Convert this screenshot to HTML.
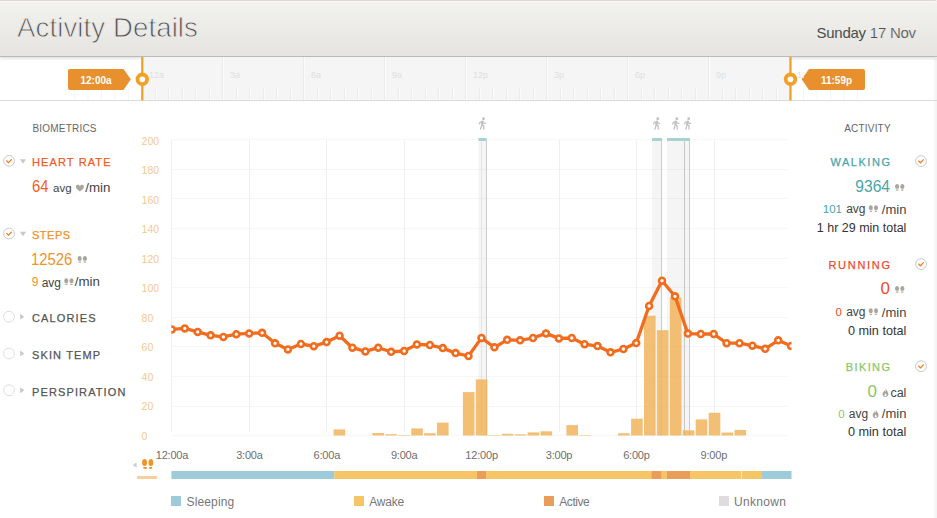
<!DOCTYPE html>
<html><head><meta charset="utf-8"><title>Activity Details</title>
<style>
html,body{margin:0;padding:0}
body{width:937px;height:518px;background:#fff;position:relative;overflow:hidden;font-family:"Liberation Sans",sans-serif}
.t{position:absolute;line-height:1;white-space:nowrap}
.hd{-webkit-text-stroke:0.25px currentColor}
.ic{position:absolute;overflow:visible}
#hdr{position:absolute;left:0;top:0;width:936.5px;height:55px;border-top:1px solid #dcdacf;background:linear-gradient(#f2f2ef,#e5e4e0);box-shadow:inset 0 1px 0 #f8f8f6,0 1px 0 #bababa,0 3px 3px rgba(0,0,0,0.11);border-radius:0 2px 0 0}
#rs{position:absolute;left:934px;top:58px;width:3px;height:460px;background:linear-gradient(to right,#fafafa,#f3f3f3)}
#tl{position:absolute;left:0;top:57px;width:937px;height:43px;border-bottom:1px solid #dcdcdc}
#tlbg{position:absolute;left:142px;top:57px;width:649px;height:43px;background:#f5f5f5}
.tlb{position:absolute;top:69px;font-size:9px;line-height:12px;color:#e0e0e0}
.yl{position:absolute;left:142px;font-size:11px;line-height:12px;color:#f5c98f}
.xl{position:absolute;top:449px;width:60px;text-align:center;font-size:11px;line-height:12px;color:#6e6e6e;letter-spacing:-0.2px}
.tag{position:absolute;top:69px;height:21px;background:#e8902e;color:#fff;font-size:11px;font-weight:bold;line-height:21px;text-align:center;box-shadow:0 1px 2px rgba(0,0,0,0.25)}
svg{position:absolute;left:0;top:0}
</style></head><body>
<div id="rs"></div><div id="hdr"></div>
<svg width="937" height="60" style="z-index:2"><text x="17" y="36.8" font-family="Liberation Sans, sans-serif" font-size="27.6" fill="#4e4e4e" stroke="#ecebe8" stroke-width="0.85" letter-spacing="0.1">Activity Details</text>
<text x="816.5" y="38" font-family="Liberation Sans, sans-serif" font-size="15" fill="#4c4c4c" letter-spacing="-0.25">Sunday <tspan fill="#505050" stroke="#e9e8e5" stroke-width="0.2">17 Nov</tspan></text></svg>
<div id="tl"></div><div id="tlbg"></div>
<svg width="937" height="110"><rect x="141" y="57" width="1" height="43" fill="#ebebeb"/><rect x="142" y="57" width="1" height="43" fill="#fcfcfc"/>
<rect x="155" y="88" width="1" height="12" fill="#ececec"/><rect x="156" y="88" width="1" height="12" fill="#fbfbfb"/>
<rect x="168" y="88" width="1" height="12" fill="#ececec"/><rect x="169" y="88" width="1" height="12" fill="#fbfbfb"/>
<rect x="182" y="88" width="1" height="12" fill="#ececec"/><rect x="183" y="88" width="1" height="12" fill="#fbfbfb"/>
<rect x="195" y="88" width="1" height="12" fill="#ececec"/><rect x="196" y="88" width="1" height="12" fill="#fbfbfb"/>
<rect x="209" y="88" width="1" height="12" fill="#ececec"/><rect x="210" y="88" width="1" height="12" fill="#fbfbfb"/>
<rect x="222" y="57" width="1" height="43" fill="#ebebeb"/><rect x="223" y="57" width="1" height="43" fill="#fcfcfc"/>
<rect x="236" y="88" width="1" height="12" fill="#ececec"/><rect x="237" y="88" width="1" height="12" fill="#fbfbfb"/>
<rect x="249" y="88" width="1" height="12" fill="#ececec"/><rect x="250" y="88" width="1" height="12" fill="#fbfbfb"/>
<rect x="263" y="88" width="1" height="12" fill="#ececec"/><rect x="264" y="88" width="1" height="12" fill="#fbfbfb"/>
<rect x="276" y="88" width="1" height="12" fill="#ececec"/><rect x="277" y="88" width="1" height="12" fill="#fbfbfb"/>
<rect x="290" y="88" width="1" height="12" fill="#ececec"/><rect x="291" y="88" width="1" height="12" fill="#fbfbfb"/>
<rect x="303" y="57" width="1" height="43" fill="#ebebeb"/><rect x="304" y="57" width="1" height="43" fill="#fcfcfc"/>
<rect x="317" y="88" width="1" height="12" fill="#ececec"/><rect x="318" y="88" width="1" height="12" fill="#fbfbfb"/>
<rect x="330" y="88" width="1" height="12" fill="#ececec"/><rect x="331" y="88" width="1" height="12" fill="#fbfbfb"/>
<rect x="344" y="88" width="1" height="12" fill="#ececec"/><rect x="345" y="88" width="1" height="12" fill="#fbfbfb"/>
<rect x="357" y="88" width="1" height="12" fill="#ececec"/><rect x="358" y="88" width="1" height="12" fill="#fbfbfb"/>
<rect x="371" y="88" width="1" height="12" fill="#ececec"/><rect x="372" y="88" width="1" height="12" fill="#fbfbfb"/>
<rect x="384" y="57" width="1" height="43" fill="#ebebeb"/><rect x="385" y="57" width="1" height="43" fill="#fcfcfc"/>
<rect x="398" y="88" width="1" height="12" fill="#ececec"/><rect x="399" y="88" width="1" height="12" fill="#fbfbfb"/>
<rect x="411" y="88" width="1" height="12" fill="#ececec"/><rect x="412" y="88" width="1" height="12" fill="#fbfbfb"/>
<rect x="425" y="88" width="1" height="12" fill="#ececec"/><rect x="426" y="88" width="1" height="12" fill="#fbfbfb"/>
<rect x="438" y="88" width="1" height="12" fill="#ececec"/><rect x="439" y="88" width="1" height="12" fill="#fbfbfb"/>
<rect x="452" y="88" width="1" height="12" fill="#ececec"/><rect x="453" y="88" width="1" height="12" fill="#fbfbfb"/>
<rect x="465" y="57" width="1" height="43" fill="#ebebeb"/><rect x="466" y="57" width="1" height="43" fill="#fcfcfc"/>
<rect x="479" y="88" width="1" height="12" fill="#ececec"/><rect x="480" y="88" width="1" height="12" fill="#fbfbfb"/>
<rect x="492" y="88" width="1" height="12" fill="#ececec"/><rect x="493" y="88" width="1" height="12" fill="#fbfbfb"/>
<rect x="506" y="88" width="1" height="12" fill="#ececec"/><rect x="507" y="88" width="1" height="12" fill="#fbfbfb"/>
<rect x="519" y="88" width="1" height="12" fill="#ececec"/><rect x="520" y="88" width="1" height="12" fill="#fbfbfb"/>
<rect x="533" y="88" width="1" height="12" fill="#ececec"/><rect x="534" y="88" width="1" height="12" fill="#fbfbfb"/>
<rect x="546" y="57" width="1" height="43" fill="#ebebeb"/><rect x="547" y="57" width="1" height="43" fill="#fcfcfc"/>
<rect x="560" y="88" width="1" height="12" fill="#ececec"/><rect x="561" y="88" width="1" height="12" fill="#fbfbfb"/>
<rect x="573" y="88" width="1" height="12" fill="#ececec"/><rect x="574" y="88" width="1" height="12" fill="#fbfbfb"/>
<rect x="587" y="88" width="1" height="12" fill="#ececec"/><rect x="588" y="88" width="1" height="12" fill="#fbfbfb"/>
<rect x="600" y="88" width="1" height="12" fill="#ececec"/><rect x="601" y="88" width="1" height="12" fill="#fbfbfb"/>
<rect x="614" y="88" width="1" height="12" fill="#ececec"/><rect x="615" y="88" width="1" height="12" fill="#fbfbfb"/>
<rect x="627" y="57" width="1" height="43" fill="#ebebeb"/><rect x="628" y="57" width="1" height="43" fill="#fcfcfc"/>
<rect x="641" y="88" width="1" height="12" fill="#ececec"/><rect x="642" y="88" width="1" height="12" fill="#fbfbfb"/>
<rect x="654" y="88" width="1" height="12" fill="#ececec"/><rect x="655" y="88" width="1" height="12" fill="#fbfbfb"/>
<rect x="668" y="88" width="1" height="12" fill="#ececec"/><rect x="669" y="88" width="1" height="12" fill="#fbfbfb"/>
<rect x="681" y="88" width="1" height="12" fill="#ececec"/><rect x="682" y="88" width="1" height="12" fill="#fbfbfb"/>
<rect x="695" y="88" width="1" height="12" fill="#ececec"/><rect x="696" y="88" width="1" height="12" fill="#fbfbfb"/>
<rect x="708" y="57" width="1" height="43" fill="#ebebeb"/><rect x="709" y="57" width="1" height="43" fill="#fcfcfc"/>
<rect x="722" y="88" width="1" height="12" fill="#ececec"/><rect x="723" y="88" width="1" height="12" fill="#fbfbfb"/>
<rect x="735" y="88" width="1" height="12" fill="#ececec"/><rect x="736" y="88" width="1" height="12" fill="#fbfbfb"/>
<rect x="749" y="88" width="1" height="12" fill="#ececec"/><rect x="750" y="88" width="1" height="12" fill="#fbfbfb"/>
<rect x="762" y="88" width="1" height="12" fill="#ececec"/><rect x="763" y="88" width="1" height="12" fill="#fbfbfb"/>
<rect x="776" y="88" width="1" height="12" fill="#ececec"/><rect x="777" y="88" width="1" height="12" fill="#fbfbfb"/>
<rect x="789" y="57" width="1" height="43" fill="#ebebeb"/><rect x="790" y="57" width="1" height="43" fill="#fcfcfc"/>
<rect x="74.0" y="89" width="1" height="11" fill="#f5f5f5"/>
<rect x="87.5" y="89" width="1" height="11" fill="#f5f5f5"/>
<rect x="101.0" y="89" width="1" height="11" fill="#f5f5f5"/>
<rect x="114.5" y="89" width="1" height="11" fill="#f5f5f5"/>
<rect x="128.0" y="89" width="1" height="11" fill="#f5f5f5"/>
<rect x="803.0" y="89" width="1" height="11" fill="#f5f5f5"/>
<rect x="816.5" y="89" width="1" height="11" fill="#f5f5f5"/>
<rect x="830.0" y="89" width="1" height="11" fill="#f5f5f5"/>
<rect x="843.5" y="89" width="1" height="11" fill="#f5f5f5"/>
<rect x="857.0" y="89" width="1" height="11" fill="#f5f5f5"/>
<rect x="141.2" y="57" width="2.2" height="43.5" fill="#f3a026"/>
<rect x="789.4" y="57" width="2.2" height="43.5" fill="#f3a026"/>
<circle cx="142.3" cy="79.3" r="4.8" fill="#fff" stroke="#f3a026" stroke-width="3.8"/>
<circle cx="790.5" cy="79.3" r="4.8" fill="#fff" stroke="#f3a026" stroke-width="3.8"/>
<path d="M70 69H123.5L130.8 79.3L123.5 90H70Q68 90 68 88V71Q68 69 70 69Z" fill="#e8902e"/>
<path d="M863 69H809L801.7 79.3L809 90H863Q865 90 865 88V71Q865 69 863 69Z" fill="#e8902e"/>
</svg>
<div class="tlb" style="left:149px">12a</div>
<div class="tlb" style="left:230px">3a</div>
<div class="tlb" style="left:311px">6a</div>
<div class="tlb" style="left:392px">9a</div>
<div class="tlb" style="left:473px">12p</div>
<div class="tlb" style="left:554px">3p</div>
<div class="tlb" style="left:635px">6p</div>
<div class="tlb" style="left:716px">9p</div>
<div class="tlb" style="left:797px;width:7px;overflow:hidden">12a</div>

<div class="t" style="left:68px;top:76px;width:56px;text-align:center;font-size:10px;font-weight:bold;color:#fff">12:00a</div>
<div class="t" style="left:808px;top:76px;width:57px;text-align:center;font-size:10px;font-weight:bold;color:#fff">11:59p</div>
<div class="t " style="left:32.5px;top:124.23px;font-size:10px;color:#666;letter-spacing:0.2px">BIOMETRICS</div>
<div class="t hd" style="left:32px;top:156.99px;font-size:11px;color:#f15a22;letter-spacing:1.12px">HEART RATE</div>
<div class="t " style="left:31.6px;top:179.46px;font-size:16px;color:#f2601e;transform:scaleX(0.925);transform-origin:left center;">64</div>
<div class="t " style="left:53px;top:182.87px;font-size:11.5px;color:#444;">avg</div>
<div class="t " style="left:85.3px;top:180.94px;font-size:13.3px;color:#444;">/min</div>
<div class="t hd" style="left:32px;top:229.79px;font-size:11px;color:#f0922b;letter-spacing:0.5px">STEPS</div>
<div class="t " style="left:31.0px;top:251.76px;font-size:16px;color:#f0922b;transform:scaleX(0.925);transform-origin:left center;">12526</div>
<div class="t " style="left:31.7px;top:276.24px;font-size:12px;color:#f0922b;">9</div>
<div class="t " style="left:41.7px;top:276.84px;font-size:12px;color:#444;">avg</div>
<div class="t " style="left:74.7px;top:275.44px;font-size:13.3px;color:#444;">/min</div>
<div class="t hd" style="left:32px;top:313.29px;font-size:11px;color:#555;letter-spacing:1.12px">CALORIES</div>
<div class="t hd" style="left:32px;top:350.19px;font-size:11px;color:#555;letter-spacing:1.12px">SKIN TEMP</div>
<div class="t hd" style="left:32px;top:386.99px;font-size:11px;color:#555;letter-spacing:1.12px">PERSPIRATION</div>

<div class="t " style="left:844.2px;top:124.23px;font-size:10px;color:#666;letter-spacing:0.2px">ACTIVITY</div>
<div class="t hd" style="right:47px;top:156.99px;font-size:11px;color:#4aa5a8;letter-spacing:1.53px;margin-right:-1.5px">WALKING</div>
<div class="t " style="right:47px;top:178.29px;font-size:16.2px;color:#4aa5a8;transform:scaleX(0.965);transform-origin:right center;">9364</div>
<div class="t " style="right:95px;top:203.87px;font-size:11.5px;color:#4aa5a8;">101</div>
<div class="t " style="left:846.2px;top:203.44px;font-size:12px;color:#444;">avg</div>
<div class="t " style="right:30.600000000000023px;top:202.60px;font-size:13px;color:#444;">/min</div>
<div class="t " style="right:30.600000000000023px;top:221.92px;font-size:12.5px;color:#333;">1 hr 29 min total</div>
<div class="t hd" style="right:47px;top:259.69px;font-size:11px;color:#ee4b2b;letter-spacing:1.7px;margin-right:-1.7px">RUNNING</div>
<div class="t " style="right:47px;top:280.76px;font-size:16px;color:#ee4b2b;transform:scaleX(1.06);transform-origin:right center;">0</div>
<div class="t " style="right:95px;top:306.77px;font-size:11.5px;color:#ee4b2b;">0</div>
<div class="t " style="left:846.2px;top:306.34px;font-size:12px;color:#444;">avg</div>
<div class="t " style="right:30.600000000000023px;top:305.50px;font-size:13px;color:#444;">/min</div>
<div class="t " style="right:30.600000000000023px;top:324.55px;font-size:12.7px;color:#333;">0 min total</div>
<div class="t hd" style="right:47px;top:362.19px;font-size:11px;color:#8cc665;letter-spacing:1.4px;margin-right:-1.4px">BIKING</div>
<div class="t " style="right:59.799999999999955px;top:383.76px;font-size:16px;color:#8cc665;transform:scaleX(1.06);transform-origin:right center;">0</div>
<div class="t " style="right:30.600000000000023px;top:386.72px;font-size:12.5px;color:#444;">cal</div>
<div class="t " style="right:92.39999999999998px;top:408.67px;font-size:11.5px;color:#8cc665;">0</div>
<div class="t " style="left:848.8px;top:408.24px;font-size:12px;color:#444;">avg</div>
<div class="t " style="right:30.600000000000023px;top:407.40px;font-size:13px;color:#444;">/min</div>
<div class="t " style="right:30.600000000000023px;top:426.45px;font-size:12.7px;color:#333;">0 min total</div>

<svg width="937" height="518"><defs><clipPath id="cp"><rect x="171.3" y="130" width="620.2" height="320"/></clipPath></defs>
<line x1="172" x2="788" y1="435.5" y2="435.5" stroke="#f6f6f6" stroke-width="1"/>
<line x1="172" x2="788" y1="406.5" y2="406.5" stroke="#f6f6f6" stroke-width="1"/>
<line x1="172" x2="788" y1="376.5" y2="376.5" stroke="#f6f6f6" stroke-width="1"/>
<line x1="172" x2="788" y1="346.5" y2="346.5" stroke="#f6f6f6" stroke-width="1"/>
<line x1="172" x2="788" y1="317.5" y2="317.5" stroke="#f6f6f6" stroke-width="1"/>
<line x1="172" x2="788" y1="287.5" y2="287.5" stroke="#f6f6f6" stroke-width="1"/>
<line x1="172" x2="788" y1="258.5" y2="258.5" stroke="#f6f6f6" stroke-width="1"/>
<line x1="172" x2="788" y1="228.5" y2="228.5" stroke="#f6f6f6" stroke-width="1"/>
<line x1="172" x2="788" y1="198.5" y2="198.5" stroke="#f6f6f6" stroke-width="1"/>
<line x1="172" x2="788" y1="169.5" y2="169.5" stroke="#f6f6f6" stroke-width="1"/>
<line x1="172" x2="788" y1="139.5" y2="139.5" stroke="#f6f6f6" stroke-width="1"/>
<line x1="171.5" x2="171.5" y1="140" y2="432" stroke="#efefef" stroke-width="1"/>
<line x1="249.5" x2="249.5" y1="140" y2="432" stroke="#efefef" stroke-width="1"/>
<line x1="326.5" x2="326.5" y1="140" y2="432" stroke="#efefef" stroke-width="1"/>
<line x1="404.5" x2="404.5" y1="140" y2="432" stroke="#efefef" stroke-width="1"/>
<line x1="481.5" x2="481.5" y1="140" y2="432" stroke="#efefef" stroke-width="1"/>
<line x1="559.5" x2="559.5" y1="140" y2="432" stroke="#efefef" stroke-width="1"/>
<line x1="636.5" x2="636.5" y1="140" y2="432" stroke="#efefef" stroke-width="1"/>
<line x1="714.5" x2="714.5" y1="140" y2="432" stroke="#efefef" stroke-width="1"/>
<rect x="478.5" y="141" width="8.0" height="294.5" fill="#000" fill-opacity="0.04"/>
<rect x="486" y="141" width="1" height="294.5" fill="#cbcbcb"/>
<rect x="652" y="141" width="9.5" height="294.5" fill="#000" fill-opacity="0.04"/>
<rect x="661" y="141" width="1" height="294.5" fill="#cbcbcb"/>
<rect x="667" y="141" width="17.5" height="294.5" fill="#000" fill-opacity="0.04"/>
<rect x="684" y="141" width="1" height="294.5" fill="#cbcbcb"/>
<rect x="684.5" y="141" width="5.5" height="294.5" fill="#000" fill-opacity="0.04"/>
<rect x="689" y="141" width="1" height="294.5" fill="#cbcbcb"/>
<rect x="478.5" y="138" width="8.199999999999989" height="3" fill="#a5d3d0"/>
<rect x="652" y="138" width="10" height="3" fill="#a5d3d0"/>
<rect x="667" y="138" width="23" height="3" fill="#a5d3d0"/>
<rect x="333.6" y="429.4" width="11.6" height="6.1" fill="#f0b35a" fill-opacity="0.84"/>
<rect x="372.4" y="433.0" width="11.6" height="2.5" fill="#f0b35a" fill-opacity="0.84"/>
<rect x="385.3" y="434.2" width="11.6" height="1.3" fill="#f0b35a" fill-opacity="0.84"/>
<rect x="398.2" y="435.0" width="11.6" height="0.5" fill="#f0b35a" fill-opacity="0.84"/>
<rect x="411.2" y="428.4" width="11.6" height="7.1" fill="#f0b35a" fill-opacity="0.84"/>
<rect x="424.1" y="433.2" width="11.6" height="2.3" fill="#f0b35a" fill-opacity="0.84"/>
<rect x="437.0" y="422.6" width="11.6" height="12.9" fill="#f0b35a" fill-opacity="0.84"/>
<rect x="462.9" y="392.1" width="11.6" height="43.4" fill="#f0b35a" fill-opacity="0.84"/>
<rect x="475.8" y="379.4" width="11.6" height="56.1" fill="#f0b35a" fill-opacity="0.84"/>
<rect x="488.8" y="435.0" width="11.6" height="0.5" fill="#f0b35a" fill-opacity="0.84"/>
<rect x="501.7" y="433.8" width="11.6" height="1.7" fill="#f0b35a" fill-opacity="0.84"/>
<rect x="514.6" y="434.3" width="11.6" height="1.2" fill="#f0b35a" fill-opacity="0.84"/>
<rect x="527.6" y="432.4" width="11.6" height="3.1" fill="#f0b35a" fill-opacity="0.84"/>
<rect x="540.5" y="431.3" width="11.6" height="4.2" fill="#f0b35a" fill-opacity="0.84"/>
<rect x="566.4" y="425.1" width="11.6" height="10.4" fill="#f0b35a" fill-opacity="0.84"/>
<rect x="579.3" y="435.0" width="11.6" height="0.5" fill="#f0b35a" fill-opacity="0.84"/>
<rect x="618.1" y="433.2" width="11.6" height="2.3" fill="#f0b35a" fill-opacity="0.84"/>
<rect x="631.1" y="418.7" width="11.6" height="16.8" fill="#f0b35a" fill-opacity="0.84"/>
<rect x="644.0" y="315.7" width="11.6" height="119.8" fill="#f0b35a" fill-opacity="0.84"/>
<rect x="656.9" y="330.2" width="11.6" height="105.3" fill="#f0b35a" fill-opacity="0.84"/>
<rect x="669.9" y="297.7" width="11.6" height="137.8" fill="#f0b35a" fill-opacity="0.84"/>
<rect x="682.8" y="430.3" width="11.6" height="5.2" fill="#f0b35a" fill-opacity="0.84"/>
<rect x="695.7" y="419.4" width="11.6" height="16.1" fill="#f0b35a" fill-opacity="0.84"/>
<rect x="708.7" y="412.8" width="11.6" height="22.7" fill="#f0b35a" fill-opacity="0.84"/>
<rect x="721.6" y="432.5" width="11.6" height="3.0" fill="#f0b35a" fill-opacity="0.84"/>
<rect x="734.5" y="430.0" width="11.6" height="5.5" fill="#f0b35a" fill-opacity="0.84"/>
<g clip-path="url(#cp)"><polyline points="171.8,329.4 184.8,328.4 197.7,331.9 210.6,335.3 223.4,336.9 236.3,334.2 249.2,333.4 262.1,332.8 275.1,343.3 287.9,349.4 300.9,344.0 313.8,346.2 326.6,342.1 339.6,335.7 352.4,347.7 365.4,351.4 378.2,347.7 391.1,351.8 404.1,351.0 416.9,344.4 429.9,345.0 442.8,348.1 455.6,353.1 468.5,356.0 481.5,337.9 494.4,347.3 507.2,339.8 520.1,340.3 533.0,338.0 546.0,333.4 558.9,338.4 571.8,338.0 584.6,344.2 597.5,346.1 610.5,352.3 623.4,349.0 636.2,343.1 649.1,306.0 662.0,280.7 675.0,296.3 687.9,333.6 700.8,334.0 713.7,334.0 726.6,343.2 739.5,343.2 752.4,345.7 765.2,348.8 778.2,340.3 791.1,345.9" fill="none" stroke="#f26c1e" stroke-width="3.3" stroke-linejoin="round"/>
<circle cx="171.8" cy="329.4" r="2.95" fill="#fff" stroke="#f26c1e" stroke-width="2.6"/>
<circle cx="184.8" cy="328.4" r="2.95" fill="#fff" stroke="#f26c1e" stroke-width="2.6"/>
<circle cx="197.7" cy="331.9" r="2.95" fill="#fff" stroke="#f26c1e" stroke-width="2.6"/>
<circle cx="210.6" cy="335.3" r="2.95" fill="#fff" stroke="#f26c1e" stroke-width="2.6"/>
<circle cx="223.4" cy="336.9" r="2.95" fill="#fff" stroke="#f26c1e" stroke-width="2.6"/>
<circle cx="236.3" cy="334.2" r="2.95" fill="#fff" stroke="#f26c1e" stroke-width="2.6"/>
<circle cx="249.2" cy="333.4" r="2.95" fill="#fff" stroke="#f26c1e" stroke-width="2.6"/>
<circle cx="262.1" cy="332.8" r="2.95" fill="#fff" stroke="#f26c1e" stroke-width="2.6"/>
<circle cx="275.1" cy="343.3" r="2.95" fill="#fff" stroke="#f26c1e" stroke-width="2.6"/>
<circle cx="287.9" cy="349.4" r="2.95" fill="#fff" stroke="#f26c1e" stroke-width="2.6"/>
<circle cx="300.9" cy="344.0" r="2.95" fill="#fff" stroke="#f26c1e" stroke-width="2.6"/>
<circle cx="313.8" cy="346.2" r="2.95" fill="#fff" stroke="#f26c1e" stroke-width="2.6"/>
<circle cx="326.6" cy="342.1" r="2.95" fill="#fff" stroke="#f26c1e" stroke-width="2.6"/>
<circle cx="339.6" cy="335.7" r="2.95" fill="#fff" stroke="#f26c1e" stroke-width="2.6"/>
<circle cx="352.4" cy="347.7" r="2.95" fill="#fff" stroke="#f26c1e" stroke-width="2.6"/>
<circle cx="365.4" cy="351.4" r="2.95" fill="#fff" stroke="#f26c1e" stroke-width="2.6"/>
<circle cx="378.2" cy="347.7" r="2.95" fill="#fff" stroke="#f26c1e" stroke-width="2.6"/>
<circle cx="391.1" cy="351.8" r="2.95" fill="#fff" stroke="#f26c1e" stroke-width="2.6"/>
<circle cx="404.1" cy="351.0" r="2.95" fill="#fff" stroke="#f26c1e" stroke-width="2.6"/>
<circle cx="416.9" cy="344.4" r="2.95" fill="#fff" stroke="#f26c1e" stroke-width="2.6"/>
<circle cx="429.9" cy="345.0" r="2.95" fill="#fff" stroke="#f26c1e" stroke-width="2.6"/>
<circle cx="442.8" cy="348.1" r="2.95" fill="#fff" stroke="#f26c1e" stroke-width="2.6"/>
<circle cx="455.6" cy="353.1" r="2.95" fill="#fff" stroke="#f26c1e" stroke-width="2.6"/>
<circle cx="468.5" cy="356.0" r="2.95" fill="#fff" stroke="#f26c1e" stroke-width="2.6"/>
<circle cx="481.5" cy="337.9" r="2.95" fill="#fff" stroke="#f26c1e" stroke-width="2.6"/>
<circle cx="494.4" cy="347.3" r="2.95" fill="#fff" stroke="#f26c1e" stroke-width="2.6"/>
<circle cx="507.2" cy="339.8" r="2.95" fill="#fff" stroke="#f26c1e" stroke-width="2.6"/>
<circle cx="520.1" cy="340.3" r="2.95" fill="#fff" stroke="#f26c1e" stroke-width="2.6"/>
<circle cx="533.0" cy="338.0" r="2.95" fill="#fff" stroke="#f26c1e" stroke-width="2.6"/>
<circle cx="546.0" cy="333.4" r="2.95" fill="#fff" stroke="#f26c1e" stroke-width="2.6"/>
<circle cx="558.9" cy="338.4" r="2.95" fill="#fff" stroke="#f26c1e" stroke-width="2.6"/>
<circle cx="571.8" cy="338.0" r="2.95" fill="#fff" stroke="#f26c1e" stroke-width="2.6"/>
<circle cx="584.6" cy="344.2" r="2.95" fill="#fff" stroke="#f26c1e" stroke-width="2.6"/>
<circle cx="597.5" cy="346.1" r="2.95" fill="#fff" stroke="#f26c1e" stroke-width="2.6"/>
<circle cx="610.5" cy="352.3" r="2.95" fill="#fff" stroke="#f26c1e" stroke-width="2.6"/>
<circle cx="623.4" cy="349.0" r="2.95" fill="#fff" stroke="#f26c1e" stroke-width="2.6"/>
<circle cx="636.2" cy="343.1" r="2.95" fill="#fff" stroke="#f26c1e" stroke-width="2.6"/>
<circle cx="649.1" cy="306.0" r="2.95" fill="#fff" stroke="#f26c1e" stroke-width="2.6"/>
<circle cx="662.0" cy="280.7" r="2.95" fill="#fff" stroke="#f26c1e" stroke-width="2.6"/>
<circle cx="675.0" cy="296.3" r="2.95" fill="#fff" stroke="#f26c1e" stroke-width="2.6"/>
<circle cx="687.9" cy="333.6" r="2.95" fill="#fff" stroke="#f26c1e" stroke-width="2.6"/>
<circle cx="700.8" cy="334.0" r="2.95" fill="#fff" stroke="#f26c1e" stroke-width="2.6"/>
<circle cx="713.7" cy="334.0" r="2.95" fill="#fff" stroke="#f26c1e" stroke-width="2.6"/>
<circle cx="726.6" cy="343.2" r="2.95" fill="#fff" stroke="#f26c1e" stroke-width="2.6"/>
<circle cx="739.5" cy="343.2" r="2.95" fill="#fff" stroke="#f26c1e" stroke-width="2.6"/>
<circle cx="752.4" cy="345.7" r="2.95" fill="#fff" stroke="#f26c1e" stroke-width="2.6"/>
<circle cx="765.2" cy="348.8" r="2.95" fill="#fff" stroke="#f26c1e" stroke-width="2.6"/>
<circle cx="778.2" cy="340.3" r="2.95" fill="#fff" stroke="#f26c1e" stroke-width="2.6"/>
<circle cx="791.1" cy="345.9" r="2.95" fill="#fff" stroke="#f26c1e" stroke-width="2.6"/>
</g>
<rect x="171.4" y="471" width="162.9" height="8" fill="#9dcbd9"/>
<rect x="334.3" y="471" width="427.7" height="8" fill="#f6c566"/>
<rect x="762" y="471" width="29.5" height="8" fill="#9dcbd9"/>
<rect x="477" y="471" width="9" height="8" fill="#ea9d58"/>
<rect x="651.7" y="471" width="9.5" height="8" fill="#ea9d58"/>
<rect x="667" y="471" width="23" height="8" fill="#ea9d58"/>
<rect x="741" y="471" width="1" height="8" fill="#f3e6cf"/>
<rect x="137" y="476" width="20" height="3" fill="#f6cf9b"/>
<path d="M132.7 465L136.6 462.3V467.7Z" fill="#cfcfcf"/>
</svg>


<div class="t " style="left:141.6px;top:430.91px;font-size:10.5px;color:#f5c98f;">0</div>
<div class="t " style="left:141.6px;top:401.41px;font-size:10.5px;color:#f5c98f;">20</div>
<div class="t " style="left:141.6px;top:371.91px;font-size:10.5px;color:#f5c98f;">40</div>
<div class="t " style="left:141.6px;top:342.41px;font-size:10.5px;color:#f5c98f;">60</div>
<div class="t " style="left:141.6px;top:312.91px;font-size:10.5px;color:#f5c98f;">80</div>
<div class="t " style="left:141.6px;top:283.41px;font-size:10.5px;color:#f5c98f;">100</div>
<div class="t " style="left:141.6px;top:253.91px;font-size:10.5px;color:#f5c98f;">120</div>
<div class="t " style="left:141.6px;top:224.41px;font-size:10.5px;color:#f5c98f;">140</div>
<div class="t " style="left:141.6px;top:194.91px;font-size:10.5px;color:#f5c98f;">160</div>
<div class="t " style="left:141.6px;top:165.41px;font-size:10.5px;color:#f5c98f;">180</div>
<div class="t " style="left:141.6px;top:135.91px;font-size:10.5px;color:#f5c98f;">200</div>

<div class="xl" style="left:142.0px">12:00a</div>
<div class="xl" style="left:219.4px">3:00a</div>
<div class="xl" style="left:296.8px">6:00a</div>
<div class="xl" style="left:374.2px">9:00a</div>
<div class="xl" style="left:451.6px">12:00p</div>
<div class="xl" style="left:529.0px">3:00p</div>
<div class="xl" style="left:606.4px">6:00p</div>
<div class="xl" style="left:683.8px">9:00p</div>

<div style="position:absolute;left:171px;top:496px;width:10px;height:10px;background:#9dcbd9"></div><div class="t " style="left:186.5px;top:496.44px;font-size:12px;color:#777;letter-spacing:0.15px">Sleeping</div>
<div style="position:absolute;left:354px;top:496px;width:10px;height:10px;background:#f6c566"></div><div class="t " style="left:369.3px;top:496.44px;font-size:12px;color:#777;letter-spacing:-0.25px">Awake</div>
<div style="position:absolute;left:544px;top:496px;width:10px;height:10px;background:#ea9d58"></div><div class="t " style="left:559.3px;top:496.44px;font-size:12px;color:#777;letter-spacing:-0.45px">Active</div>
<div style="position:absolute;left:719px;top:496px;width:10px;height:10px;background:#dddddd"></div><div class="t " style="left:734px;top:496.44px;font-size:12px;color:#777;letter-spacing:0.3px">Unknown</div>

<svg width="937" height="518" style="z-index:3"><g transform="translate(2.50 154.40) scale(1.0000 1.0000)"><circle cx="6.5" cy="6.5" r="5.4" fill="#fff" stroke="#c6c6c6" stroke-width="0.95"/><path d="M3.9 6.1L6 8.2L9.2 4.8" fill="none" stroke="#f0801e" stroke-width="1.25"/></g><g transform="translate(20.00 159.20) scale(1.0000 1.1250)"><path d="M0 0L6 0L3 4Z" fill="#c8c8c8"/></g><g transform="translate(75.90 184.80) scale(0.8000 0.8500)"><path fill="#aaa69e" d="M5 8C3 6.2 0 4.5 0 2.2C0 0.8 1.1 0 2.3 0C3.4 0 4.4 0.6 5 1.6C5.6 0.6 6.6 0 7.7 0C8.9 0 10 0.8 10 2.2C10 4.5 7 6.2 5 8Z"/></g><g transform="translate(2.50 227.00) scale(1.0000 1.0000)"><circle cx="6.5" cy="6.5" r="5.4" fill="#fff" stroke="#c6c6c6" stroke-width="0.95"/><path d="M3.9 6.1L6 8.2L9.2 4.8" fill="none" stroke="#f0801e" stroke-width="1.25"/></g><g transform="translate(20.00 231.80) scale(1.0000 1.1250)"><path d="M0 0L6 0L3 4Z" fill="#c8c8c8"/></g><g transform="translate(77.60 256.00) scale(0.9400 0.9444)"><g fill="#aaa69e"><path d="M2.2 0C3.5 0 4.3 1 4.3 2.5C4.3 3.8 3.9 5 3.3 5H1.1C0.5 5 0.1 3.8 0.1 2.5C0.1 1 0.9 0 2.2 0Z"/><path d="M0.8 5.9H3.9Q3.9 7.2 2.4 7.2Q0.8 7.2 0.8 5.9Z"/><path d="M7.8 0C6.5 0 5.7 1 5.7 2.5C5.7 3.8 6.1 5 6.7 5H8.9C9.5 5 9.9 3.8 9.9 2.5C9.9 1 9.1 0 7.8 0Z"/><path d="M9.2 5.9H6.1Q6.1 7.2 7.6 7.2Q9.2 7.2 9.2 5.9Z"/></g></g><g transform="translate(64.20 278.20) scale(0.9400 0.9444)"><g fill="#aaa69e"><path d="M2.2 0C3.5 0 4.3 1 4.3 2.5C4.3 3.8 3.9 5 3.3 5H1.1C0.5 5 0.1 3.8 0.1 2.5C0.1 1 0.9 0 2.2 0Z"/><path d="M0.8 5.9H3.9Q3.9 7.2 2.4 7.2Q0.8 7.2 0.8 5.9Z"/><path d="M7.8 0C6.5 0 5.7 1 5.7 2.5C5.7 3.8 6.1 5 6.7 5H8.9C9.5 5 9.9 3.8 9.9 2.5C9.9 1 9.1 0 7.8 0Z"/><path d="M9.2 5.9H6.1Q6.1 7.2 7.6 7.2Q9.2 7.2 9.2 5.9Z"/></g></g><g transform="translate(2.50 310.20) scale(1.0000 1.0000)"><circle cx="6.5" cy="6.5" r="5.4" fill="#fff" stroke="#dcdcdc" stroke-width="0.95"/></g><g transform="translate(20.20 313.80) scale(1.0000 1.0000)"><path d="M0 0L4 3L0 6Z" fill="#c8c8c8"/></g><g transform="translate(2.50 347.00) scale(1.0000 1.0000)"><circle cx="6.5" cy="6.5" r="5.4" fill="#fff" stroke="#dcdcdc" stroke-width="0.95"/></g><g transform="translate(20.20 350.60) scale(1.0000 1.0000)"><path d="M0 0L4 3L0 6Z" fill="#c8c8c8"/></g><g transform="translate(2.50 383.70) scale(1.0000 1.0000)"><circle cx="6.5" cy="6.5" r="5.4" fill="#fff" stroke="#dcdcdc" stroke-width="0.95"/></g><g transform="translate(20.20 387.30) scale(1.0000 1.0000)"><path d="M0 0L4 3L0 6Z" fill="#c8c8c8"/></g><g transform="translate(914.50 154.60) scale(1.0000 1.0000)"><circle cx="6.5" cy="6.5" r="5.4" fill="#fff" stroke="#c6c6c6" stroke-width="0.95"/><path d="M3.9 6.1L6 8.2L9.2 4.8" fill="none" stroke="#f0801e" stroke-width="1.25"/></g><g transform="translate(895.00 184.00) scale(0.9400 0.9444)"><g fill="#aaa69e"><path d="M2.2 0C3.5 0 4.3 1 4.3 2.5C4.3 3.8 3.9 5 3.3 5H1.1C0.5 5 0.1 3.8 0.1 2.5C0.1 1 0.9 0 2.2 0Z"/><path d="M0.8 5.9H3.9Q3.9 7.2 2.4 7.2Q0.8 7.2 0.8 5.9Z"/><path d="M7.8 0C6.5 0 5.7 1 5.7 2.5C5.7 3.8 6.1 5 6.7 5H8.9C9.5 5 9.9 3.8 9.9 2.5C9.9 1 9.1 0 7.8 0Z"/><path d="M9.2 5.9H6.1Q6.1 7.2 7.6 7.2Q9.2 7.2 9.2 5.9Z"/></g></g><g transform="translate(868.70 205.20) scale(0.9400 0.9444)"><g fill="#aaa69e"><path d="M2.2 0C3.5 0 4.3 1 4.3 2.5C4.3 3.8 3.9 5 3.3 5H1.1C0.5 5 0.1 3.8 0.1 2.5C0.1 1 0.9 0 2.2 0Z"/><path d="M0.8 5.9H3.9Q3.9 7.2 2.4 7.2Q0.8 7.2 0.8 5.9Z"/><path d="M7.8 0C6.5 0 5.7 1 5.7 2.5C5.7 3.8 6.1 5 6.7 5H8.9C9.5 5 9.9 3.8 9.9 2.5C9.9 1 9.1 0 7.8 0Z"/><path d="M9.2 5.9H6.1Q6.1 7.2 7.6 7.2Q9.2 7.2 9.2 5.9Z"/></g></g><g transform="translate(914.50 257.60) scale(1.0000 1.0000)"><circle cx="6.5" cy="6.5" r="5.4" fill="#fff" stroke="#c6c6c6" stroke-width="0.95"/><path d="M3.9 6.1L6 8.2L9.2 4.8" fill="none" stroke="#f0801e" stroke-width="1.25"/></g><g transform="translate(895.00 286.00) scale(0.9400 0.9444)"><g fill="#aaa69e"><path d="M2.2 0C3.5 0 4.3 1 4.3 2.5C4.3 3.8 3.9 5 3.3 5H1.1C0.5 5 0.1 3.8 0.1 2.5C0.1 1 0.9 0 2.2 0Z"/><path d="M0.8 5.9H3.9Q3.9 7.2 2.4 7.2Q0.8 7.2 0.8 5.9Z"/><path d="M7.8 0C6.5 0 5.7 1 5.7 2.5C5.7 3.8 6.1 5 6.7 5H8.9C9.5 5 9.9 3.8 9.9 2.5C9.9 1 9.1 0 7.8 0Z"/><path d="M9.2 5.9H6.1Q6.1 7.2 7.6 7.2Q9.2 7.2 9.2 5.9Z"/></g></g><g transform="translate(868.70 308.20) scale(0.9400 0.9444)"><g fill="#aaa69e"><path d="M2.2 0C3.5 0 4.3 1 4.3 2.5C4.3 3.8 3.9 5 3.3 5H1.1C0.5 5 0.1 3.8 0.1 2.5C0.1 1 0.9 0 2.2 0Z"/><path d="M0.8 5.9H3.9Q3.9 7.2 2.4 7.2Q0.8 7.2 0.8 5.9Z"/><path d="M7.8 0C6.5 0 5.7 1 5.7 2.5C5.7 3.8 6.1 5 6.7 5H8.9C9.5 5 9.9 3.8 9.9 2.5C9.9 1 9.1 0 7.8 0Z"/><path d="M9.2 5.9H6.1Q6.1 7.2 7.6 7.2Q9.2 7.2 9.2 5.9Z"/></g></g><g transform="translate(914.50 359.70) scale(1.0000 1.0000)"><circle cx="6.5" cy="6.5" r="5.4" fill="#fff" stroke="#c6c6c6" stroke-width="0.95"/><path d="M3.9 6.1L6 8.2L9.2 4.8" fill="none" stroke="#f0801e" stroke-width="1.25"/></g><g transform="translate(882.30 388.20) scale(0.9000 0.8800)"><path fill="#aaa69e" d="M3.6 0C4 1.8 6.8 3.6 6.8 6.4C6.8 8.6 5.3 10 3.5 10C1.6 10 0.2 8.6 0.2 6.6C0.2 4.6 2 3.6 2.4 2.2C3 3 3.1 3.6 3.1 4.2C3.6 3.2 3.9 1.6 3.6 0Z M3.5 9.2C4.2 9.2 4.7 8.6 4.7 7.8C4.7 6.9 4 6.5 3.6 5.7C3.3 6.5 2.4 6.9 2.4 7.9C2.4 8.7 2.8 9.2 3.5 9.2Z" fill-rule="evenodd"/></g><g transform="translate(872.50 409.40) scale(0.9000 0.8800)"><path fill="#aaa69e" d="M3.6 0C4 1.8 6.8 3.6 6.8 6.4C6.8 8.6 5.3 10 3.5 10C1.6 10 0.2 8.6 0.2 6.6C0.2 4.6 2 3.6 2.4 2.2C3 3 3.1 3.6 3.1 4.2C3.6 3.2 3.9 1.6 3.6 0Z M3.5 9.2C4.2 9.2 4.7 8.6 4.7 7.8C4.7 6.9 4 6.5 3.6 5.7C3.3 6.5 2.4 6.9 2.4 7.9C2.4 8.7 2.8 9.2 3.5 9.2Z" fill-rule="evenodd"/></g><g transform="translate(478.00 117.00) scale(1.0000 1.0000)"><g fill="none" stroke="#c2c2c2" stroke-width="1.3" stroke-linecap="round" stroke-linejoin="round"><circle cx="5.4" cy="1.7" r="1.45" fill="#c2c2c2" stroke="none"/><path d="M4.3 4.6L3.9 7.6L2.5 12.2M3.9 7.6L5.6 8.6L5.8 12.2M4.1 4.5L1.9 5.4L1.2 6.9M4.7 4.6L6 6.2L7.4 6.6"/><path d="M4.4 4.6L4 7.2" stroke-width="2.3"/></g></g><g transform="translate(652.40 117.00) scale(1.0000 1.0000)"><g fill="none" stroke="#c2c2c2" stroke-width="1.3" stroke-linecap="round" stroke-linejoin="round"><circle cx="5.4" cy="1.7" r="1.45" fill="#c2c2c2" stroke="none"/><path d="M4.3 4.6L3.9 7.6L2.5 12.2M3.9 7.6L5.6 8.6L5.8 12.2M4.1 4.5L1.9 5.4L1.2 6.9M4.7 4.6L6 6.2L7.4 6.6"/><path d="M4.4 4.6L4 7.2" stroke-width="2.3"/></g></g><g transform="translate(671.40 117.00) scale(1.0000 1.0000)"><g fill="none" stroke="#c2c2c2" stroke-width="1.3" stroke-linecap="round" stroke-linejoin="round"><circle cx="5.4" cy="1.7" r="1.45" fill="#c2c2c2" stroke="none"/><path d="M4.3 4.6L3.9 7.6L2.5 12.2M3.9 7.6L5.6 8.6L5.8 12.2M4.1 4.5L1.9 5.4L1.2 6.9M4.7 4.6L6 6.2L7.4 6.6"/><path d="M4.4 4.6L4 7.2" stroke-width="2.3"/></g></g><g transform="translate(683.30 117.00) scale(1.0000 1.0000)"><g fill="none" stroke="#c2c2c2" stroke-width="1.3" stroke-linecap="round" stroke-linejoin="round"><circle cx="5.4" cy="1.7" r="1.45" fill="#c2c2c2" stroke="none"/><path d="M4.3 4.6L3.9 7.6L2.5 12.2M3.9 7.6L5.6 8.6L5.8 12.2M4.1 4.5L1.9 5.4L1.2 6.9M4.7 4.6L6 6.2L7.4 6.6"/><path d="M4.4 4.6L4 7.2" stroke-width="2.3"/></g></g><g transform="translate(142.00 458.90) scale(1.0000 1.0000)"><g fill="#f0952c"><ellipse cx="2.55" cy="3.6" rx="2.5" ry="3.6"/><path d="M1.1 8H5Q5 10.2 3.1 10.2Q1.1 10.2 1.1 8Z"/><ellipse cx="8.85" cy="3.6" rx="2.4" ry="3.6"/><path d="M10.3 8H6.9Q6.9 10.2 8.7 10.2Q10.3 10.2 10.3 8Z"/></g></g></svg>
</body></html>
